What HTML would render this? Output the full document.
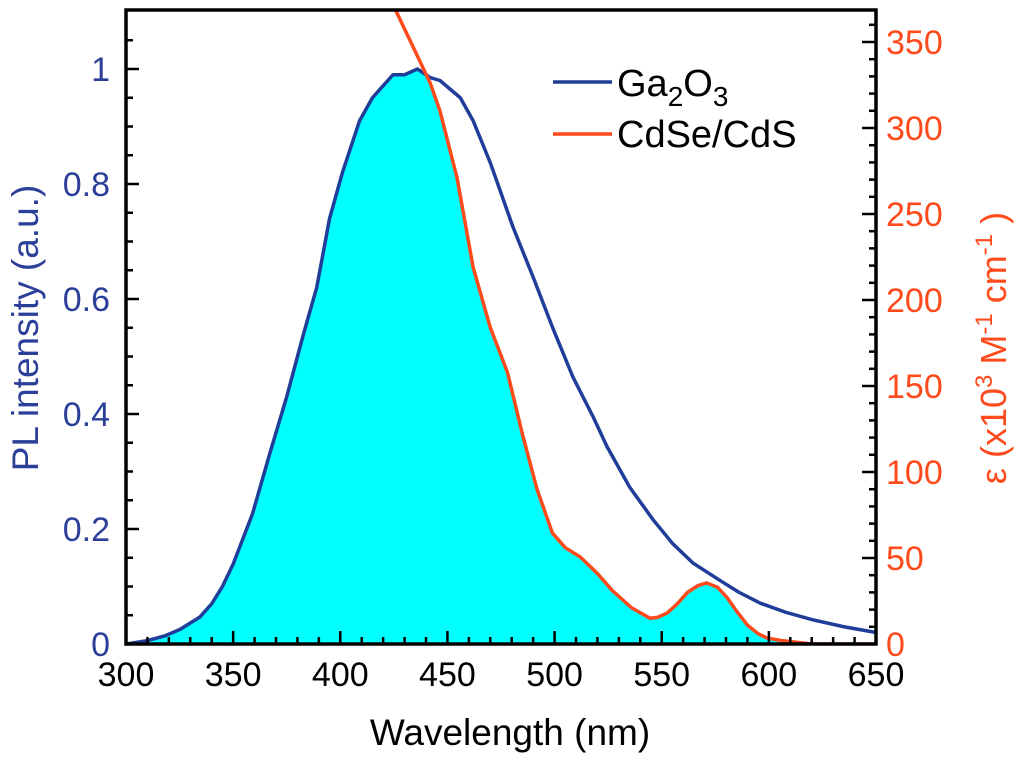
<!DOCTYPE html>
<html><head><meta charset="utf-8"><style>
body{margin:0;background:#fff;}
svg text{font-family:"Liberation Sans",sans-serif;}
</style></head><body>
<svg id="c" width="1024" height="761"></svg>
<script>
const wl=[300,310,318,325,334.5,340,345,350,359,367,375,382.6,389,395,401,409,415,424.6,430,436,442,446.5,456,462,470,480.6,490,499,508.6,518,524.5,535,546,555,564.5,577,586,596,608,620.5,635,650];
const pl=[0,0.006,0.014,0.025,0.047,0.07,0.1,0.139,0.226,0.33,0.43,0.536,0.62,0.74,0.82,0.91,0.95,0.99,0.99,1.0,0.985,0.98,0.95,0.91,0.837,0.725,0.638,0.551,0.464,0.395,0.343,0.273,0.216,0.175,0.141,0.111,0.09,0.071,0.055,0.042,0.03,0.02];
const cwl=[426,432.5,442,446.5,454.5,462,470,478,485,491.8,499,505,512,520,527,536,544.5,548,552.5,557,562,567,571,576,580.5,585,590,595,599,606,613,620,650];
const eps=[368,351,326,310,271,219,184,158,122,90,64.5,56,50.6,41,31,21,15,15.5,18,23,30,34,35.5,33,27,19,11,6,3.5,2,1,0,0];
const xTicks=[300,350,400,450,500,550,600,650];
const yTicks=[0,0.2,0.4,0.6,0.8,1];
const y2Ticks=[0,50,100,150,200,250,300,350];
const X0=126,X1=876,T=10,B=644;
const x=v=>X0+(v-300)*(X1-X0)/350;
const y=v=>B-v*575;
const y2=v=>B-v*1.72;
const svg=document.getElementById('c');const NS='http://www.w3.org/2000/svg';
function mk(t,a,p){const e=document.createElementNS(NS,t);for(const k in a)e.setAttribute(k,a[k]);(p||svg).appendChild(e);return e;}
function interp(xs,ys,v){if(v<=xs[0])return ys[0];for(let i=1;i<xs.length;i++)if(v<=xs[i]){const f=(v-xs[i-1])/(xs[i]-xs[i-1]);return ys[i-1]+f*(ys[i]-ys[i-1]);}return ys[ys.length-1];}
let pts=[];for(let w=300;w<=650;w+=0.5){const a=y(interp(wl,pl,w));const b=w<cwl[0]?-1e9:y2(interp(cwl,eps,w));pts.push(x(w)+','+Math.max(a,b));}
const cp=mk('clipPath',{id:'cl'});mk('rect',{x:X0,y:T,width:X1-X0,height:B-T},cp);
const f=mk('polygon',{points:x(300)+','+B+' '+pts.join(' ')+' '+x(650)+','+B,fill:'#00ffff','clip-path':'url(#cl)'});

const l1=mk('polyline',{points:wl.map((w,i)=>x(w)+','+y(pl[i])).join(' '),fill:'none',stroke:'#1f3d99','stroke-width':3.5,'stroke-linejoin':'round'});

const l2=mk('polyline',{points:cwl.map((w,i)=>x(w)+','+y2(eps[i])).join(' '),fill:'none',stroke:'#ff4a1c','stroke-width':3.5,'clip-path':'url(#cl)','stroke-linejoin':'round'});

mk('rect',{x:X0,y:T,width:X1-X0,height:B-T,fill:'none',stroke:'#000','stroke-width':3.5});
for(let w=300;w<=650;w+=10){const mj=w%50==0;mk('line',{x1:x(w),x2:x(w),y1:B,y2:B-(mj?13:7),stroke:'#000','stroke-width':2.5});}
for(const w of xTicks){const t=mk('text',{x:x(w),y:B+42,'text-anchor':'middle','font-size':34});t.textContent=w;}
for(let v=0;v<=1.1;v+=0.05){const mj=Math.abs(v*5-Math.round(v*5))<1e-6;mk('line',{x1:X0,x2:X0+(mj?13:7),y1:y(v),y2:y(v),stroke:'#000','stroke-width':2.5});}
for(const v of yTicks){const t=mk('text',{x:X0-16,y:y(v)+12,'text-anchor':'end','font-size':34,fill:'#2b3f99'});t.textContent=v;}
for(let v=0;v<=360;v+=10){const mj=v%50==0;mk('line',{x1:X1,x2:X1-(mj?14:7),y1:y2(v),y2:y2(v),stroke:'#000','stroke-width':2.5});}
for(const v of y2Ticks){const t=mk('text',{x:X1+10,y:y2(v)+12,'font-size':34,fill:'#ff4a1c'});t.textContent=v;}
</script>
<svg width="1024" height="761" style="position:absolute;left:0;top:0">
<text x="510" y="745" text-anchor="middle" font-size="37">Wavelength (nm)</text>
<text transform="translate(38,328) rotate(-90)" text-anchor="middle" font-size="37" fill="#2b3f99">PL intensity (a.u.)</text>
<text transform="translate(1006,348) rotate(-90)" text-anchor="middle" font-size="36" fill="#ff4a1c">ε (x10<tspan dy="-14" font-size="24">3</tspan><tspan dy="14"> M</tspan><tspan dy="-14" font-size="24">-1</tspan><tspan dy="14"> cm</tspan><tspan dy="-14" font-size="24">-1</tspan><tspan dy="14"> )</tspan></text>
<g>
<line x1="553" x2="612" y1="82" y2="82" stroke="#1f3d99" stroke-width="3.5"/>
<text x="617" y="96" font-size="38">Ga<tspan dy="10" font-size="28">2</tspan><tspan dy="-10">O</tspan><tspan dy="10" font-size="28">3</tspan></text>
<line x1="553" x2="612" y1="134" y2="134" stroke="#ff4a1c" stroke-width="3.5"/>
<text x="617" y="147" font-size="38">CdSe/CdS</text>
</g>
</svg>
</body></html>
